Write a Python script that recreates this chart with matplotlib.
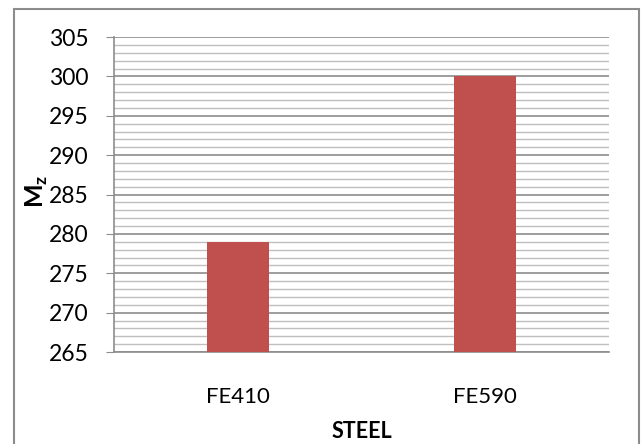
import matplotlib
matplotlib.use("Agg")
import matplotlib.pyplot as plt
from matplotlib.patches import Rectangle
import numpy as np

categories = ["FE410", "FE590"]
values = [279, 300]
y_min, y_max = 265, 305

plt.rcParams['font.family'] = ['Lato', 'DejaVu Sans']
plt.rcParams['mathtext.fontset'] = 'custom'
plt.rcParams['mathtext.bf'] = 'Lato:bold'
plt.rcParams['mathtext.rm'] = 'Lato'

W, H = 641, 444
fig = plt.figure(figsize=(W/100, H/100), dpi=100)
ax = fig.add_axes([114/W, 1-352/H, (609-114)/W, (352-37)/H])

x = np.arange(len(categories))
ax.bar(x, [v - y_min for v in values], bottom=y_min, width=0.25, color='#C0504D', zorder=3)
ax.set_xlim(-0.5, 1.5)
ax.set_ylim(y_min, y_max)
ax.set_yticks(np.arange(y_min, y_max + 1, 5))
ax.set_yticks(np.arange(y_min, y_max + 1, 1), minor=True)
ax.grid(which='major', axis='y', color='#8c8c8c', linewidth=1.2, zorder=0)
ax.grid(which='minor', axis='y', color='#bfbfbf', linewidth=1.0, zorder=0)
ax.set_xticks(x)
ax.set_xticklabels(categories, fontsize=16)
ax.tick_params(axis='x', length=0, pad=25)
ax.tick_params(axis='y', which='major', length=6, color='#8c8c8c', labelsize=16.5, pad=12)
ax.tick_params(axis='y', which='minor', length=0)
for s in ['top', 'right']:
    ax.spines[s].set_visible(False)
for s in ['left', 'bottom']:
    ax.spines[s].set_color('#8c8c8c')
    ax.spines[s].set_linewidth(1.2)

ax.set_xlabel('STEEL', fontsize=15.5, fontweight='bold', labelpad=10)
fig.text(37/W, 1-191/H, r'$\mathbf{M}_\mathbf{z}$', rotation=90, fontsize=18,
         ha='center', va='center')

fig.patches.append(Rectangle((14/W, -0.1), (639-14)/W, 1.1 - 9/H,
                             transform=fig.transFigure, fill=False,
                             edgecolor='#8c8c8c', linewidth=1.5))

fig.savefig('out.png', dpi=100)
